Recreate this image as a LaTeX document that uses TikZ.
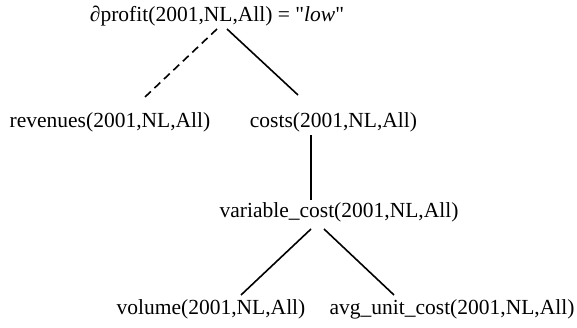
\documentclass[tikz,border=0pt]{standalone}
\usepackage{fontspec}
\setmainfont{Liberation Serif}[Ligatures=TeXOff]
\usepackage{tikz}
\usetikzlibrary{calc}
\usetikzlibrary{positioning}

\tikzset{lbl/.style={anchor=base, inner sep=0pt, font=\fontsize{21.5}{26}\selectfont},
         edge/.style={line width=1.6pt},
         dashedge/.style={line width=1.6pt, dash pattern=on 8pt off 5pt}}

\begin{document}
\begin{tikzpicture}[x=1pt,y=1pt]
                \useasboundingbox (0,0) rectangle (577,327);
                \node[lbl] (root) at (217,305) {∂profit(2001,NL,All) = "\textit{low}"};
                \node[lbl] (rev) at (110,200) {revenues(2001,NL,All)};
                \node[lbl] (costs) at (333.5,200) {costs(2001,NL,All)};
                \node[lbl] (varcost) at (339,110) {variable\_cost(2001,NL,All)};
                \node[lbl] (vol) at (211,13) {volume(2001,NL,All)};
                \node[lbl] (avgcost) at (452,13) {avg\_unit\_cost(2001,NL,All)};
                \draw[dashedge] ([shift={(0pt,-7pt)}]root.base) -- ([shift={(35pt,30pt)}]rev.base);
                \draw[edge] ([shift={(10pt,-7pt)}]root.base) -- ([shift={(-35.5pt,32pt)}]costs.base);
                \draw[edge] ([shift={(-22.5pt,-8pt)}]costs.base) -- ([shift={(-28pt,17pt)}]varcost.base);
                \draw[edge] ([shift={(-28pt,-12pt)}]varcost.base) -- ([shift={(30pt,19pt)}]vol.base);
                \draw[edge] ([shift={(-15pt,-12pt)}]varcost.base) -- ([shift={(-58pt,19pt)}]avgcost.base);
            \end{tikzpicture}
\end{document}
